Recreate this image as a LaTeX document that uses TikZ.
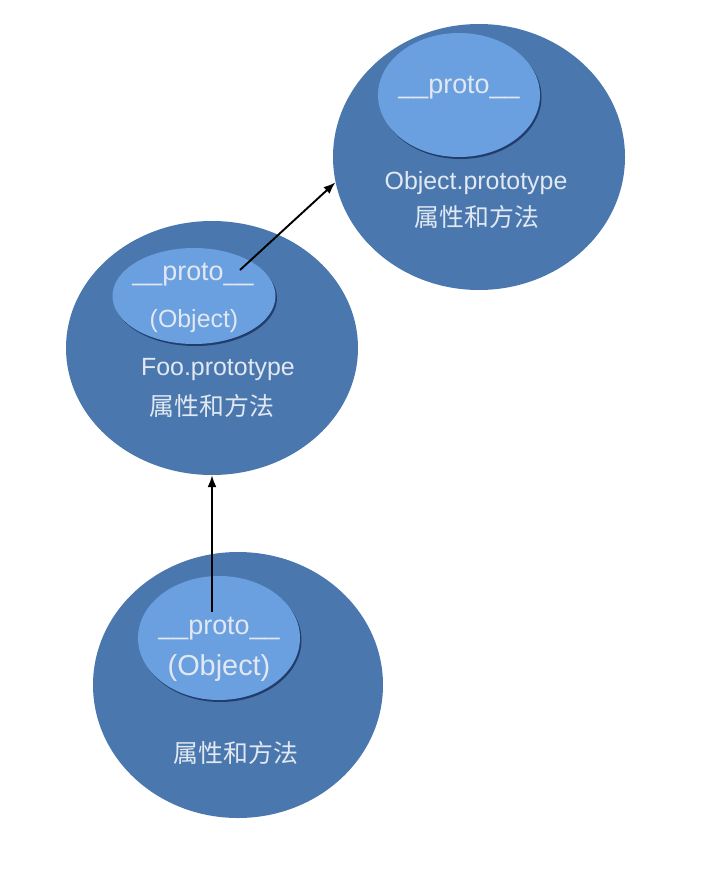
\documentclass[tikz,border=0pt]{standalone}
\usepackage{fontspec}
\setmainfont{Liberation Sans}
\newfontfamily\cjk{Noto Sans CJK SC}
\usetikzlibrary{shapes.geometric,shadows,arrows.meta}
\definecolor{outerblue}{RGB}{74,120,174}
\definecolor{innerblue}{RGB}{106,159,224}
\definecolor{rimblue}{RGB}{30,55,100}
\definecolor{labelgray}{RGB}{225,232,242}
\begin{document}
\begin{tikzpicture}[x=1bp,y=-1bp,
	outer/.style={ellipse,fill=outerblue,inner sep=0},
	inner/.style={ellipse,fill=innerblue,inner sep=0,
		drop shadow={shadow xshift=1.5bp,shadow yshift=-2bp,fill=rimblue,opacity=.9}},
	lbl/.style={text=labelgray,inner sep=0,font=\fontsize{25}{30}\selectfont},
	protolbl/.style={lbl,font=\fontsize{27}{32}\selectfont},
	ptr/.style={-{Latex[length=12bp,width=9bp]},line width=1.9bp}]
\useasboundingbox (0,0) rectangle (728,870);
% Object.prototype
\node[outer,minimum width=292bp,minimum height=266bp] (obj) at (479,157) {};
\node[inner,minimum width=162bp,minimum height=124bp] (objp) at (459,95) {};
\node[protolbl] (objproto) at (459,88) {\_\_proto\_\_};
\node[lbl] (objname) at (476,183) {Object.prototype};
\node[lbl] (objattr) at (477,217) {\cjk 属性和方法};
% Foo.prototype
\node[outer,minimum width=292bp,minimum height=254bp] (foo) at (212,348) {};
\node[inner,minimum width=163bp,minimum height=96bp] (foop) at (194,296) {};
\node[protolbl] (fooproto) at (193,275) {\_\_proto\_\_};
\node[lbl] (fooobj) at (194,321) {(Object)};
\node[lbl] (fooname) at (218,370) {Foo.prototype};
\node[lbl] (fooattr) at (212,406) {\cjk 属性和方法};
% instance
\node[outer,minimum width=290bp,minimum height=266bp] (bar) at (238,685) {};
\node[inner,minimum width=162bp,minimum height=124bp] (barp) at (219,638) {};
\node[protolbl] (barproto) at (219,629) {\_\_proto\_\_};
\node[lbl,font=\fontsize{29}{34}\selectfont] (barobj) at (219,668) {(Object)};
\node[lbl] (barattr) at (236,753) {\cjk 属性和方法};
% links
\coordinate (fooptr) at (240,270);
\coordinate (barptr) at (212,612);
\draw[ptr] (fooptr) -- (obj.190);
\draw[ptr] (barptr) -- (barptr |- foo.south);
\end{tikzpicture}
\end{document}
